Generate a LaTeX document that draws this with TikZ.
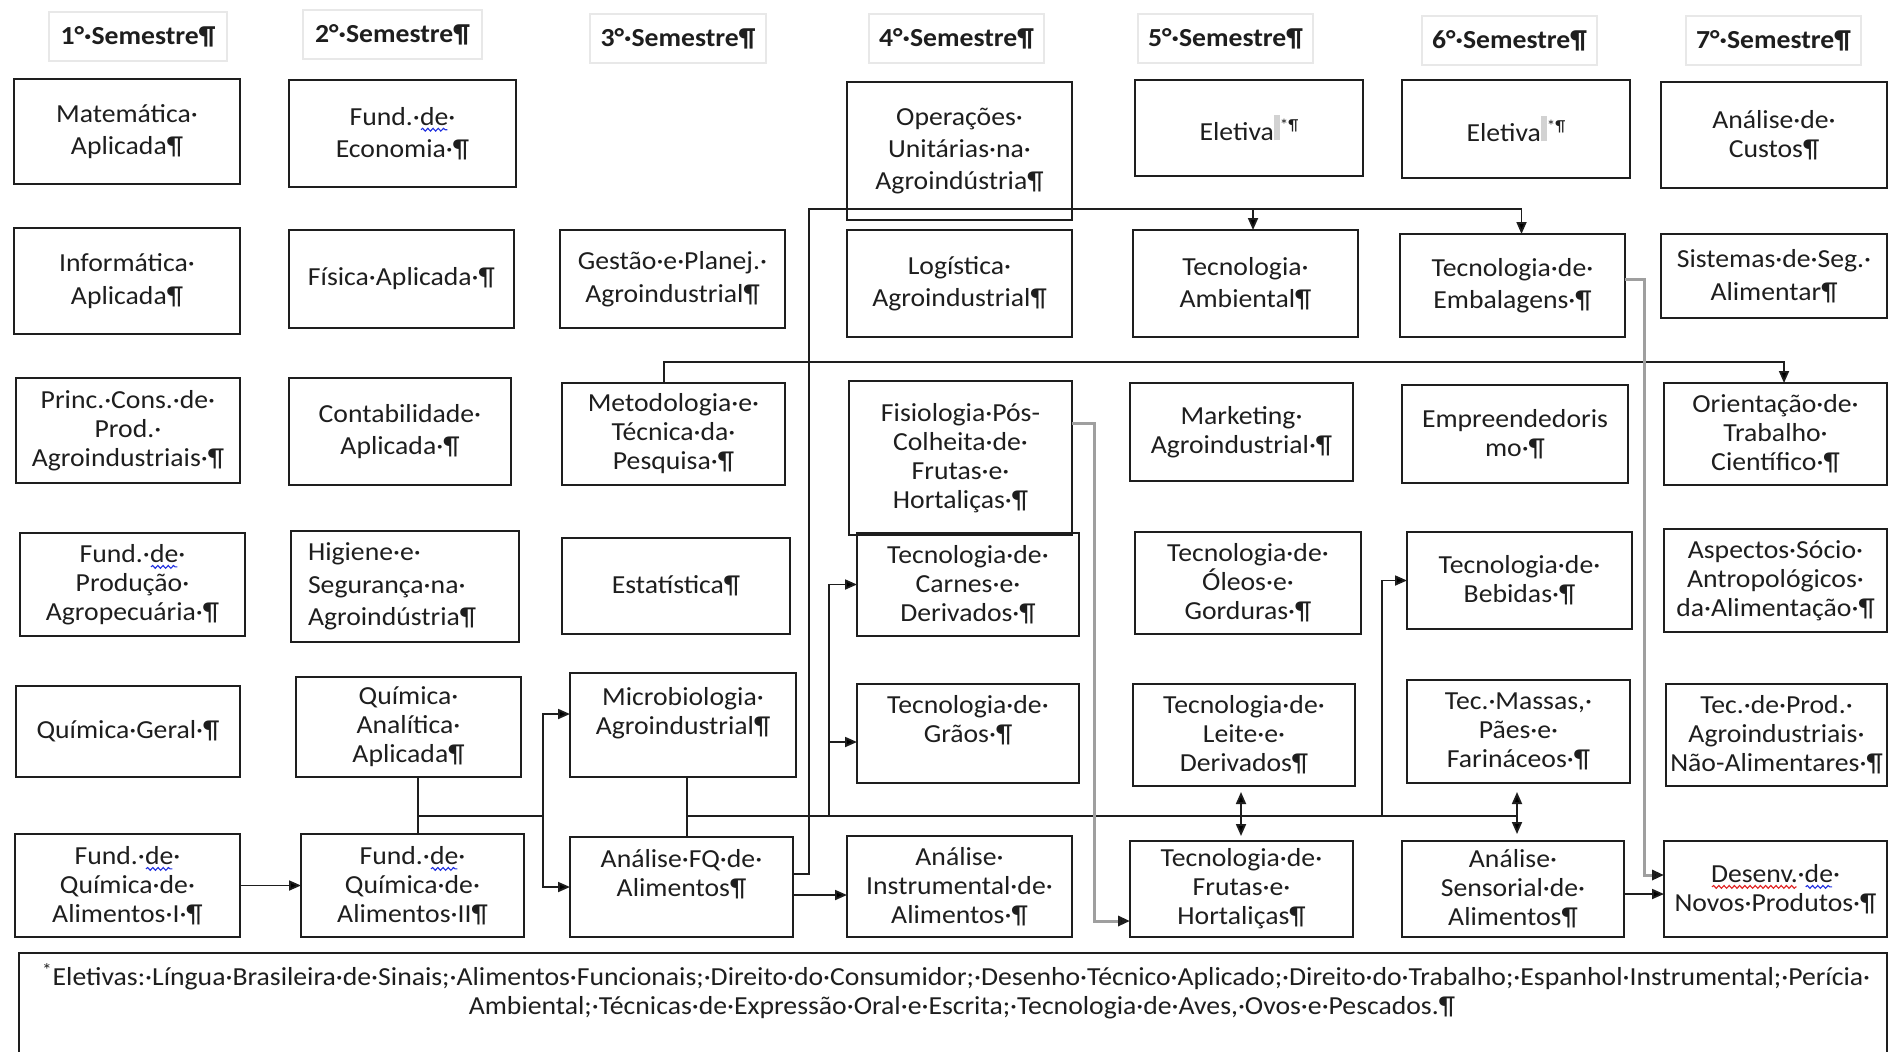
\documentclass[tikz,border=0pt]{standalone}
\usepackage{fontspec}
\setmainfont{Carlito}[FakeStretch=1.065]
\usetikzlibrary{arrows.meta,calc,decorations.pathmorphing}
\definecolor{ink}{HTML}{1E1E1E}
\definecolor{spellblue}{HTML}{2030E0}
\definecolor{spellred}{HTML}{E02020}
\newcommand{\bx}[7][]{%
  \pgfmathsetmacro\boxw{(#5-#3)*0.5}%
  \pgfmathsetmacro\boxh{(#6-#4)*0.5}%
  \node[box,minimum width=\boxw pt,minimum height=\boxh pt,#1] (#2) at ({(#3+#5)/2},{(#4+#6)/2}) {#7};}
\newcommand{\elmark}{{\setlength{\fboxsep}{0pt}\colorbox{gray!35}{\rule{0pt}{12.5pt}\hspace{3pt}}}\raisebox{5pt}{\fontsize{8}{8}\selectfont *¶}}
\newsavebox{\wvbox}
\newcommand{\wv}[2]{\begingroup\sbox{\wvbox}{#2}\rlap{\usebox{\wvbox}}\tikz[baseline=0pt,x=1pt,y=1pt]{\useasboundingbox (0pt,0pt) rectangle (\wd\wvbox,0pt);\draw[#1,line width=0.55pt,decorate,decoration={snake,amplitude=0.7pt,segment length=2.6pt}] (0.5pt,-2.3pt) -- (\wd\wvbox-0.5pt,-2.3pt);}\endgroup}
\newcommand{\bwv}[1]{\wv{spellblue}{#1}}
\newcommand{\rwv}[1]{\wv{spellred}{#1}}
\begin{document}
\begin{tikzpicture}[x=0.5pt,y=-0.5pt,
  txt/.style={inner sep=0pt,outer sep=0pt,font=\fontsize{13}{14.5}\selectfont,text=ink},
  box/.style={txt,draw=ink,line width=0.9pt,align=center},
  loose/.style={font=\fontsize{13}{16.2}\selectfont},
  hdr/.style={draw=gray!18,line width=0.7pt,inner sep=0pt,outer sep=0pt,align=center,text=ink,font=\fontsize{13}{16}\selectfont\bfseries},
  tip/.tip={Triangle[length=6pt,width=5pt,color=ink]},
  conn/.style={draw=ink,line width=0.9pt},
  arr/.style={conn,-tip},
  darr/.style={conn,tip-tip},
  garr/.style={draw=gray!75,line width=1.5pt,-tip}]
\useasboundingbox (0,0) rectangle (1889,1051);
\fill[white] (0,0) rectangle (1889,1051);

% headers
\bx[hdr]{h1}{49}{12}{227}{61}{1°·Semestre¶}
\bx[hdr]{h2}{303}{10}{482}{59}{2°·Semestre¶}
\bx[hdr]{h3}{590}{14}{766}{63}{3°·Semestre¶}
\bx[hdr]{h4}{869}{14}{1044}{63}{4°·Semestre¶}
\bx[hdr]{h5}{1138}{14}{1313}{63}{5°·Semestre¶}
\bx[hdr]{h6}{1422}{16}{1597}{65}{6°·Semestre¶}
\bx[hdr]{h7}{1686}{16}{1861}{65}{7°·Semestre¶}

% column 1
\bx[loose]{mat}{14}{79}{240}{184}{Matemática·\\Aplicada¶}
\bx[loose]{inf}{14}{228}{240}{334}{Informática·\\Aplicada¶}
\bx{pri}{16}{378}{240}{483}{Princ.·Cons.·de·\\Prod.·\\Agroindustriais·¶}
\bx{fpa}{20}{533}{245}{636}{Fund.·\bwv{de}·\\Produção·\\Agropecuária·¶}
\bx{qge}{16}{686}{240}{777}{Química·Geral·¶}
\bx{fq1}{15}{834}{240}{937}{Fund.·\bwv{de}·\\Química·de·\\Alimentos·I·¶}

% column 2
\bx[loose]{eco}{289}{80}{516}{187}{Fund.·\bwv{de}·\\Economia·¶}
\bx{fis}{289}{230}{514}{328}{Física·Aplicada·¶}
\bx[loose]{con}{289}{378}{511}{485}{Contabilidade·\\Aplicada·¶}
\bx{hig}{291}{531}{519}{642}{}
\node[txt,loose,anchor=west,align=left] (higt) at ([xshift=8.5pt]hig.west) {Higiene·e·\\Segurança·na·\\Agroindústria¶};
\bx{qan}{296}{677}{521}{777}{Química·\\Analítica·\\Aplicada¶}
\bx{fq2}{301}{834}{524}{937}{Fund.·\bwv{de}·\\Química·de·\\Alimentos·II¶}

% column 3
\bx[loose]{ges}{560}{230}{785}{328}{Gestão·e·Planej.·\\Agroindustrial¶}
\bx{met}{562}{383}{785}{485}{Metodologia·e·\\Técnica·da·\\Pesquisa·¶}
\bx{est}{562}{538}{790}{634}{Estatística¶}
\bx{mic}{570}{673}{796}{777}{Microbiologia·\\Agroindustrial¶\\\mbox{}}
\bx{afq}{570}{837}{793}{937}{Análise·FQ·de·\\Alimentos¶\\\mbox{}}

% column 4
\bx[loose]{ope}{847}{82}{1072}{220}{Operações·\\Unitárias·na·\\Agroindústria¶}
\bx[loose]{log}{847}{230}{1072}{337}{Logística·\\Agroindustrial¶}
\bx{fisi}{849}{381}{1072}{535}{Fisiologia·Pós-\\Colheita·de·\\Frutas·e·\\Hortaliças·¶}
\bx{car}{857}{533}{1079}{636}{Tecnologia·de·\\Carnes·e·\\Derivados·¶}
\bx{gra}{857}{684}{1079}{783}{Tecnologia·de·\\Grãos·¶\\\mbox{}}
\bx{ins}{847}{836}{1072}{937}{Análise·\\Instrumental·de·\\Alimentos·¶}

% column 5
\bx{el5}{1135}{80}{1363}{176}{Eletiva\elmark}
\bx[loose]{amb}{1133}{230}{1358}{337}{Tecnologia·\\Ambiental¶}
\bx{mkt}{1130}{383}{1353}{481}{Marketing·\\Agroindustrial·¶}
\bx{ole}{1135}{532}{1361}{634}{Tecnologia·de·\\Óleos·e·\\Gorduras·¶}
\bx{lei}{1133}{684}{1355}{786}{Tecnologia·de·\\Leite·e·\\Derivados¶}
\bx{fru}{1130}{841}{1353}{937}{Tecnologia·de·\\Frutas·e·\\Hortaliças¶}

% column 6
\bx{el6}{1402}{80}{1630}{178}{Eletiva\elmark}
\bx[loose]{emb}{1400}{234}{1625}{337}{Tecnologia·de·\\Embalagens·¶}
\bx{emp}{1402}{385}{1628}{483}{Empreendedoris\\mo·¶}
\bx{beb}{1407}{532}{1632}{629}{Tecnologia·de·\\Bebidas·¶}
\bx{mas}{1407}{680}{1630}{783}{Tec.·Massas,·\\Pães·e·\\Farináceos·¶}
\bx{sen}{1402}{841}{1624}{937}{Análise·\\Sensorial·de·\\Alimentos¶}

% column 7
\bx{cus}{1661}{82}{1887}{188}{Análise·de·\\Custos¶}
\bx[loose]{sis}{1661}{234}{1887}{318}{Sistemas·de·Seg.·\\Alimentar¶}
\bx{ori}{1664}{383}{1887}{485}{Orientação·de·\\Trabalho·\\Científico·¶}
\bx{asp}{1664}{529}{1887}{632}{Aspectos·Sócio·\\Antropológicos·\\da·Alimentação·¶}
\bx{pro}{1666}{684}{1887}{786}{Tec.·de·Prod.·\\Agroindustriais·\\Não-Alimentares·¶}
\bx{des}{1664}{841}{1887}{937}{\rwv{Desenv.}·\bwv{de}·\\Novos·Produtos·¶}

% footnote frame
\draw[conn] (19,1060) -- (19,953) -- (1887,953) -- (1887,1060);
\node[txt,anchor=west] (n1) at (42,977) {\textsuperscript{*}Eletivas:·Língua·Brasileira·de·Sinais;·Alimentos·Funcionais;·Direito·do·Consumidor;·Desenho·Técnico·Aplicado;·Direito·do·Trabalho;·Espanhol·Instrumental;·Perícia·};
\node[txt] (n2) at (962,1008) {Ambiental;·Técnicas·de·Expressão·Oral·e·Escrita;·Tecnologia·de·Aves,·Ovos·e·Pescados.¶};

% junction coordinates
\coordinate (j1) at (418,816);
\coordinate (j2) at (543,816);
\coordinate (j4) at (687,816);
\coordinate (j6) at (829,816);
\coordinate (j7) at (829,742);
\coordinate (k2) at (809,209);
\coordinate (k3) at (1253,209);
\coordinate (m1) at (664,362);
\coordinate (m2) at (1784,362);
\coordinate (f1) at (1094,921);
\coordinate (e1) at (1644,875);
\coordinate (b1) at (1382,816);
\coordinate (d1) at (1241,816);
\coordinate (d2) at (1517,816);

% connectors
\draw[arr] (fq1) -- (fq2);
\draw[conn] (qan.south -| j1) -- (fq2.north -| j1);
\draw[arr] (j1) -- (j2) |- ([yshift=5.5pt]mic.west);
\draw[arr] (j2) |- (afq.west);
\draw[conn] (mic.south -| j4) -- (afq.north -| j4);
\draw[conn] (j4) -- (d2);
\draw[arr] (j6) |- (car.west);
\draw[arr] (j7) -- (j7 -| gra.west);
\draw[arr] ([yshift=-4pt]afq.east) -- ([yshift=-4pt]afq.east -| ins.west);
\draw[arr] ([yshift=6.5pt]afq.east) -| (k2) -| ([xshift=4.5pt]emb.north);
\draw[arr] (k3) -- (amb.north -| k3);
\draw[arr] (met.north -| m1) -- (m1) -- (m2) -- (ori.north -| m2);
\draw[garr] ([yshift=17.5pt]fisi.east) -| (f1) -- (f1 -| fru.west);
\draw[garr] ([yshift=3.25pt]emb.east) -| (e1) -- (e1 -| des.west);
\draw[arr] ([yshift=-2.5pt]sen.east) -- ([yshift=-2.5pt]sen.east -| des.west);
\draw[arr] (b1) |- (beb.west);
\draw[darr,shorten <=3pt,shorten >=2.5pt] (lei.south -| d1) -- (fru.north -| d1);
\draw[darr,shorten <=4.5pt,shorten >=3.5pt] (mas.south -| d2) -- (sen.north -| d2);
\end{tikzpicture}
\end{document}
